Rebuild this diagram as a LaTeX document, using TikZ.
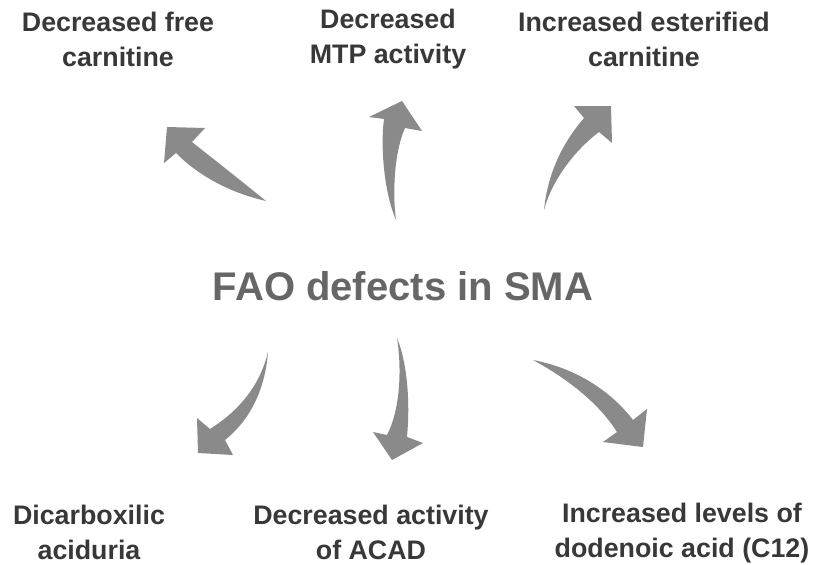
\documentclass[tikz,border=0pt]{standalone}
\usepackage{fontspec}
\setmainfont{Liberation Sans}
\definecolor{arrowgray}{HTML}{8A8A8A}
\definecolor{labelgray}{HTML}{383838}
\definecolor{titlegray}{HTML}{666666}
\begin{document}
\begin{tikzpicture}[x=1pt,y=-1pt,
  lbl/.style={align=center,inner sep=0pt,text=labelgray,font=\bfseries\fontsize{26.8}{35}\selectfont},
  ttl/.style={inner sep=0pt,text=titlegray,font=\bfseries\fontsize{40}{48}\selectfont},
  bigarrow/.style={fill=arrowgray,draw=none}]
\useasboundingbox (0,0) rectangle (815,565);
% labels
\node[lbl] (l1) at (118,39) {Decreased free\\carnitine};
\node[lbl] (l2) at (388,39) {Decreased\\MTP activity};
\node[lbl] (l3) at (644,39) {Increased esterified\\carnitine};
\node[ttl] (t) at (403,286) {FAO defects in SMA};
\node[lbl] (l4) at (89,532) {Dicarboxilic\\aciduria};
\node[lbl] (l5) at (371,532) {Decreased activity\\of ACAD};
\node[lbl] (l6) at (682,533) {Increased levels of\\dodenoic acid (C12)};
% arrows
\fill[bigarrow] (266,201) .. controls (240,180) .. (192,142) -- (205,128) -- (167,127) -- (164,163) -- (176,153) .. controls (205,182) and (240,195) .. (266,201) -- cycle;
\fill[bigarrow] (396,220) .. controls (385,195) and (380,150) .. (384,119) -- (369,117) -- (402,101) -- (422,131) -- (405,128) .. controls (395,150) and (392,190) .. (396,220) -- cycle;
\fill[bigarrow] (544,210) .. controls (548,170) and (565,140) .. (584,118) -- (574,106) -- (611,106) -- (612,143) -- (599,132) .. controls (575,150) and (552,180) .. (544,210) -- cycle;
\fill[bigarrow] (268,352) .. controls (260,385) and (240,410) .. (210,429) -- (197,418) -- (198,453) -- (233,455) -- (225,440) .. controls (250,420) and (265,390) .. (268,352) -- cycle;
\fill[bigarrow] (397,338) .. controls (402,370) and (400,410) .. (387,435) -- (373,432) -- (392,460) -- (423,443) -- (407,437) .. controls (410,405) and (408,365) .. (397,338) -- cycle;
\fill[bigarrow] (533,360) .. controls (575,368) and (610,390) .. (633,420) -- (647,409) -- (643,447) -- (603,442) -- (617,432) .. controls (600,405) and (570,380) .. (533,360) -- cycle;
\end{tikzpicture}
\end{document}
